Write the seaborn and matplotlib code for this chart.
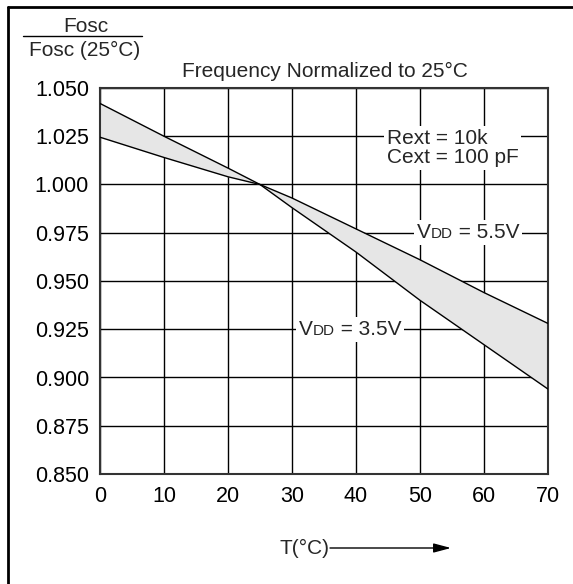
import matplotlib
matplotlib.use("Agg")
import matplotlib.pyplot as plt
import seaborn as sns
import pandas as pd
from matplotlib.lines import Line2D
from matplotlib.patches import FancyArrowPatch
from matplotlib.offsetbox import TextArea, HPacker, AnnotationBbox

# ---- data ----
temp_c = [0, 10, 20, 25, 30, 40, 50, 60, 70]
vdd_55 = [1.0245, 1.014, 1.004, 1.000, 0.993, 0.977, 0.961, 0.944, 0.928]
vdd_35 = [1.042, 1.025, 1.0085, 1.000, 0.988, 0.965, 0.940, 0.917, 0.894]
x_ticks = [0, 10, 20, 30, 40, 50, 60, 70]
y_ticks = [0.850, 0.875, 0.900, 0.925, 0.950, 0.975, 1.000, 1.025, 1.050]
y_tick_labels = ["0.850", "0.875", "0.900", "0.925", "0.950", "0.975", "1.000", "1.025", "1.050"]

sns.set_style("white")
plt.rcParams['font.family'] = ['Liberation Sans', 'DejaVu Sans']

W, H = 573, 584
fig = plt.figure(figsize=(W / 100, H / 100), dpi=100)

def px(x, y):
    return (x / W, 1 - y / H)

L, R, T, B = 100, 548, 88, 474
ax = fig.add_axes([L / W, 1 - B / H, (R - L) / W, (B - T) / H])

df = pd.DataFrame({"T": temp_c * 2,
                   "F": vdd_55 + vdd_35,
                   "VDD": ["5.5V"] * len(temp_c) + ["3.5V"] * len(temp_c)})

ax.fill_between(temp_c, vdd_55, vdd_35, color="#e6e6e6", zorder=2, linewidth=0)
sns.lineplot(data=df, x="T", y="F", hue="VDD", palette=["black", "black"],
             linewidth=1.0, legend=False, ax=ax, zorder=3, estimator=None)

FS = 15
ax.set_xlim(0, 70)
ax.set_ylim(0.850, 1.050)
ax.set_xticks(x_ticks)
ax.set_yticks(y_ticks)
ax.set_yticklabels(y_tick_labels)
ax.set_xlabel("")
ax.set_ylabel("")
ax.tick_params(axis="both", length=0, labelsize=15.5, colors="black")
ax.tick_params(axis="x", pad=9)
ax.tick_params(axis="y", pad=8)
ax.grid(True, color="black", linewidth=1.0, zorder=1)
ax.set_axisbelow(True)
for s in ax.spines.values():
    s.set_color("#333333")
    s.set_linewidth(1.5)
    s.set_visible(True)

# annotations with white backgrounds
ax.text(44.8, 1.0189, "Rext = 10k\nCext = 100 pF", fontsize=FS, ha="left", va="center",
        linespacing=1.02, zorder=4,
        bbox=dict(boxstyle="square,pad=0.12", facecolor="white", edgecolor="none"))

def vdd_label(xv, yv, val):
    parts = HPacker(children=[TextArea("V", textprops=dict(fontsize=FS)),
                              TextArea("DD", textprops=dict(fontsize=11)),
                              TextArea(" = " + val, textprops=dict(fontsize=FS))],
                    align="baseline", pad=0, sep=0)
    ab = AnnotationBbox(parts, (xv, yv), xycoords="data", frameon=True, pad=0.2,
                        bboxprops=dict(facecolor="white", edgecolor="none"), zorder=4)
    ax.add_artist(ab)

vdd_label(57.5, 0.975, "5.5V")
vdd_label(39.1, 0.925, "3.5V")

# title and y-axis fraction label
fig.text(*px(325, 77), "Frequency Normalized to 25°C", fontsize=FS, ha="center", va="baseline")
fig.text(*px(86, 32), "Fosc", fontsize=FS, ha="center", va="baseline")
fig.text(*px(85, 56), "Fosc (25°C)", fontsize=FS, ha="center", va="baseline")
fig.add_artist(Line2D([23 / W, 142 / W], [1 - 36 / H, 1 - 36 / H], color="black", linewidth=1.0))

# x axis label with arrow
fig.text(*px(280, 554), "T(°C)", fontsize=FS, ha="left", va="baseline")
fig.add_artist(FancyArrowPatch(px(330, 548), px(451, 548), transform=fig.transFigure,
                               arrowstyle="-|>,head_length=0.75,head_width=0.2",
                               color="black", linewidth=1.0, mutation_scale=14,
                               shrinkA=0, shrinkB=0))

# figure frame (left and top edges)
fig.add_artist(Line2D([8 / W, 8 / W], [0, 1 - 7 / H], color="black", linewidth=2.0))
fig.add_artist(Line2D([8 / W, 1], [1 - 7 / H, 1 - 7 / H], color="black", linewidth=2.0))

fig.savefig("out.png", dpi=100, facecolor="white")
